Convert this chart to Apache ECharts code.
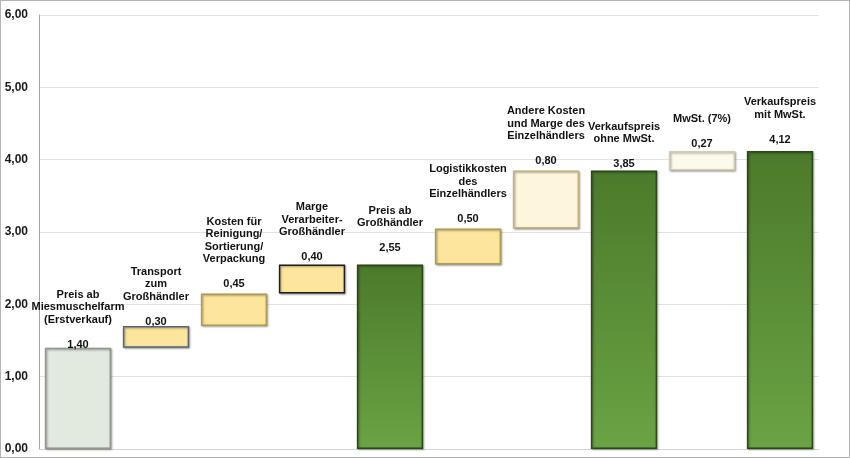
<!DOCTYPE html>
<html>
<head>
<meta charset="utf-8">
<script src="https://cdn.jsdelivr.net/npm/echarts@6/dist/echarts.min.js"></script>
<style>
html,body{margin:0;padding:0;background:#fff;}
#c{width:848px;height:456px;border:1px solid #b4b4b4;}
</style>
</head>
<body>
<div id="c"></div>
<script>
// ---- data ----
var categories = [
  "Preis ab\nMiesmuschelfarm\n(Erstverkauf)",
  "Transport\nzum\nGroßhändler",
  "Kosten für\nReinigung/\nSortierung/\nVerpackung",
  "Marge\nVerarbeiter-\nGroßhändler",
  "Preis ab\nGroßhändler",
  "Logistikkosten\ndes\nEinzelhändlers",
  "Andere Kosten\nund Marge des\nEinzelhändlers",
  "Verkaufspreis\nohne MwSt.",
  "MwSt. (7%)",
  "Verkaufspreis\nmit MwSt."
];
var values = [1.40, 0.30, 0.45, 0.40, 2.55, 0.50, 0.80, 3.85, 0.27, 4.12];
var kinds  = ["step", "step", "step", "step", "total", "step", "step", "total", "step", "total"];
var yTicks = [0, 1, 2, 3, 4, 5, 6];

// ---- styles (not data) ----
var green = {type:'linear',x:0,y:0,x2:0,y2:1,colorStops:[{offset:0,color:'#4c7a2b'},{offset:1,color:'#6aa344'}]};
var styles = [
  {fill:'#e2e9df', border:'#8e988b'},
  {fill:'#fde59b', border:'#56647a'},
  {fill:'#fde59b', border:'#ad9c58'},
  {fill:'#fde59b', border:'#1f1f1f'},
  {fill:green,     border:'#2b4718'},
  {fill:'#fde59b', border:'#ad9c58'},
  {fill:'#fdf5dc', border:'#c2b27c'},
  {fill:green,     border:'#2b4718'},
  {fill:'#fdf9ec', border:'#d5cdb0'},
  {fill:green,     border:'#2b4718'}
];
var labelDist = [-3, -2, 3, 1, 10, 3, 3, 0, 1, 5];

function fmt(v){ return v.toFixed(2).replace('.', ','); }

var base = [], run = 0;
for (var i = 0; i < values.length; i++) {
  if (kinds[i] === 'total') { base.push(0); run = values[i]; }
  else { base.push(run); run += values[i]; }
}

var chart = echarts.init(document.getElementById('c'));
chart.setOption({
  animation: false,
  grid: {left: 38, right: 30, top: 14, bottom: 8, containLabel: false},
  xAxis: {
    type: 'category',
    data: categories,
    axisLabel: {show: false},
    axisTick: {show: false},
    axisLine: {lineStyle: {color: '#d4d4d4'}}
  },
  yAxis: {
    type: 'value',
    min: yTicks[0], max: yTicks[yTicks.length - 1], interval: 1,
    axisLine: {show: true, lineStyle: {color: '#a6a6a6'}},
    axisTick: {show: false},
    splitLine: {lineStyle: {color: '#e2e2e2'}},
    axisLabel: {
      formatter: function(v){ return fmt(v); },
      fontFamily: 'Liberation Sans, Arial, sans-serif',
      fontWeight: 'bold', fontSize: 12, color: '#1a1a1a', margin: 11
    }
  },
  series: [
    {
      type: 'bar', stack: 'w', barWidth: '85%',
      itemStyle: {color: 'transparent'},
      silent: true,
      data: base
    },
    {
      type: 'bar', stack: 'w', barWidth: '85%',
      data: values.map(function(v, i){
        return {
          value: v,
          itemStyle: {
            color: styles[i].fill, borderColor: styles[i].border, borderWidth: 1.5,
            shadowColor: 'rgba(0,0,0,0.35)', shadowBlur: 2, shadowOffsetX: 1, shadowOffsetY: 1
          },
          label: {distance: labelDist[i]}
        };
      }),
      label: {
        show: true, position: 'top',
        fontFamily: 'Liberation Sans, Arial, sans-serif',
        fontWeight: 'bold', fontSize: 11, lineHeight: 12.5, color: '#111',
        align: 'center',
        formatter: function(p){ return categories[p.dataIndex] + '\n\n' + fmt(values[p.dataIndex]); }
      }
    }
  ]
});
</script>
</body>
</html>
